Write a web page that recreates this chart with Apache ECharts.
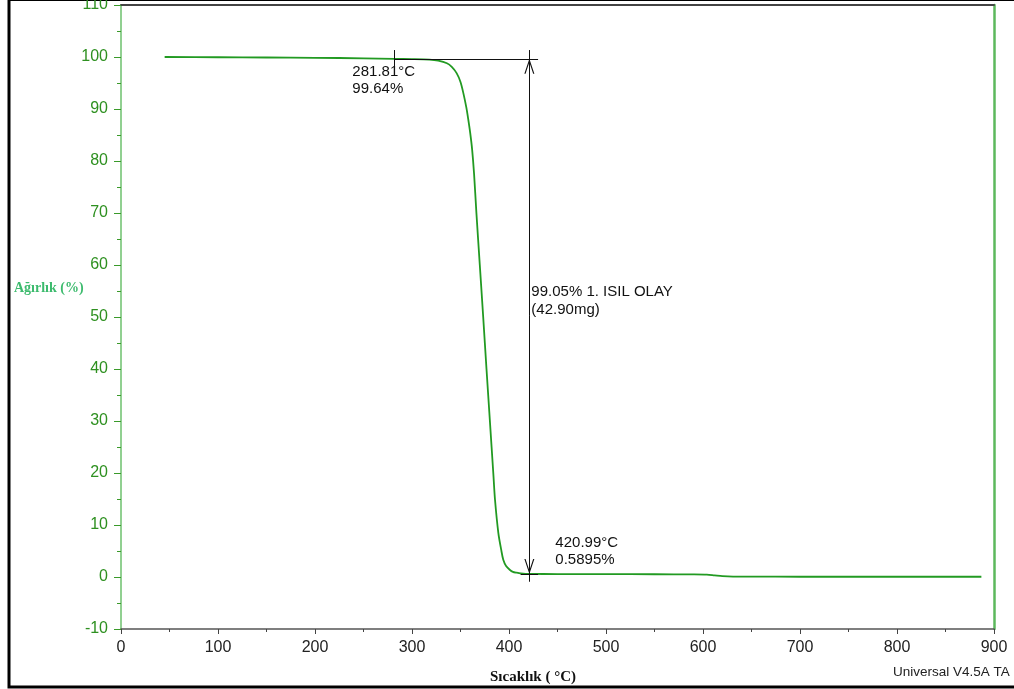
<!DOCTYPE html>
<html>
<head>
<meta charset="utf-8">
<script src="https://cdn.jsdelivr.net/npm/echarts@6/dist/echarts.min.js"></script>
<style>
html, body { margin: 0; padding: 0; background: #fff; }
#chart { width: 1014px; height: 689px; }
</style>
</head>
<body>
<div id="chart"></div>
<script>
// TGA egrisi: sicaklik (°C) - agirlik (%)
var temps = [45, 100, 150, 200, 250, 281.81, 300, 318, 327, 336, 341, 346, 350, 353, 356, 358, 360, 362, 364, 366.4,
	369.9, 373.4, 376.8, 380.3, 383.8, 385.6, 389, 392, 394.1, 397, 401, 404, 407.9, 412, 420.99,
	450, 500, 550, 590, 604, 612, 620, 631, 650, 700, 800, 887];
var weights = [100, 99.95, 99.9, 99.85, 99.75, 99.64, 99.6, 99.5, 99.3, 98.8, 98.1, 96.9, 95.2, 93.0, 90.3, 88.0, 85.4, 82.2, 77.5, 70,
	60, 50, 40, 30, 20, 14.8, 8.5, 5.2, 3.3, 2.1, 1.35, 1.0, 0.83, 0.7, 0.5895,
	0.57, 0.55, 0.53, 0.5, 0.45, 0.3, 0.15, 0.07, 0.06, 0.05, 0.05, 0.05];

var xTicks = { min: 0, max: 900, step: 100 };
var yTicks = { min: -10, max: 110, step: 10 };

// isaretler
var onset = [281.81, 99.64];
var endPoint = [420.99, 0.5895];
var onsetText = ['281.81°C', '99.64%'];
var stepText = ['99.05% 1. ISIL OLAY', '(42.90mg)'];
var endText = ['420.99°C', '0.5895%'];

var green = '#229a22';
var sans = 'Liberation Sans, Arial, sans-serif';
var serif = 'Liberation Serif, Times New Roman, serif';

var curve = temps.map(function(t, i) { return [t, weights[i]]; });

var myChart = echarts.init(document.getElementById('chart'));
var option = {
	animation: false,
	backgroundColor: '#fff',
	grid: { left: 121, right: 20, top: 5, bottom: 60, containLabel: false, outerBoundsMode: 'none' },
	xAxis: [{
		type: 'value', position: 'bottom',
		min: xTicks.min, max: xTicks.max, interval: xTicks.step,
		axisLine: { show: true, onZero: false, lineStyle: { color: '#555', width: 1.5 } },
		axisTick: { show: true, length: 5, lineStyle: { color: '#444' } },
		minorTick: { show: true, splitNumber: 2, length: 3, lineStyle: { color: '#444' } },
		axisLabel: { color: '#222', fontSize: 16, margin: 11, fontFamily: sans },
		splitLine: { show: false }
	}, {
		type: 'value', position: 'top',
		min: xTicks.min, max: xTicks.max,
		axisLine: { show: true, onZero: false, lineStyle: { color: '#444', width: 2 } },
		axisTick: { show: false }, axisLabel: { show: false }, splitLine: { show: false }
	}],
	yAxis: [{
		type: 'value', position: 'left',
		min: yTicks.min, max: yTicks.max, interval: yTicks.step,
		axisLine: { show: true, onZero: false, lineStyle: { color: '#6cc06c', width: 1.5 } },
		axisTick: { show: true, length: 7, lineStyle: { color: '#3a9a2a' } },
		minorTick: { show: true, splitNumber: 2, length: 4, lineStyle: { color: '#3a9a2a' } },
		axisLabel: { color: '#2e9020', fontSize: 16, margin: 13, fontFamily: sans },
		splitLine: { show: false }
	}, {
		type: 'value', position: 'right',
		min: yTicks.min, max: yTicks.max,
		axisLine: { show: true, onZero: false, lineStyle: { color: '#5cb85c', width: 2.5 } },
		axisTick: { show: false }, axisLabel: { show: false }, splitLine: { show: false }
	}],
	series: [{
		type: 'line',
		data: curve,
		showSymbol: false,
		smooth: 0.3,
		lineStyle: { color: green, width: 1.8 },
		itemStyle: { color: green },
		markLine: {
			silent: true,
			symbol: 'none',
			label: { show: false },
			lineStyle: { color: '#111', width: 1, type: 'solid' },
			data: [
				[{ coord: [onset[0], onset[1]] }, { coord: [endPoint[0] + 9, onset[1]] }],
				[{ coord: [onset[0], onset[1] + 1.7] }, { coord: [onset[0], onset[1] - 1.4] }],
				[{ coord: [endPoint[0], onset[1] + 1.7] }, { coord: [endPoint[0], endPoint[1] - 1.5] }],
				[{ coord: [endPoint[0] - 9, endPoint[1]] }, { coord: [endPoint[0] + 9, endPoint[1]] }]
			]
		},
		markPoint: {
			silent: true,
			data: [{
				coord: [endPoint[0], onset[1]],
				symbol: 'path://M5,0 L10,15 L8.8,15 L5,3.5 L1.2,15 L0,15 Z',
				symbolSize: [10, 15], symbolOffset: [0, '50%'],
				itemStyle: { color: '#111' }, label: { show: false }
			}, {
				coord: [endPoint[0], endPoint[1]],
				symbol: 'path://M5,15 L10,0 L8.8,0 L5,11.5 L1.2,0 L0,0 Z',
				symbolSize: [10, 15], symbolOffset: [0, '-50%'],
				itemStyle: { color: '#111' }, label: { show: false }
			}, {
				coord: onset, symbol: 'circle', symbolSize: 0,
				label: { show: true, position: [-42, 4], formatter: onsetText.join('\n') }
			}, {
				coord: [endPoint[0], 50], symbol: 'circle', symbolSize: 0,
				label: { show: true, position: [2, -34], formatter: stepText.join('\n'), lineHeight: 18 }
			}, {
				coord: endPoint, symbol: 'circle', symbolSize: 0,
				label: { show: true, position: [26, -40], formatter: endText.join('\n') }
			}],
			label: {
				color: '#111', fontSize: 15, fontFamily: sans,
				align: 'left', verticalAlign: 'top', lineHeight: 17
			}
		}
	}],
	graphic: [{
		type: 'rect', silent: true,
		shape: { x: 9, y: -0.5, width: 1020, height: 687.5 },
		style: { fill: 'none', stroke: '#000', lineWidth: 3 }
	}, {
		type: 'text', left: 14, top: 281,
		style: { text: 'Ağırlık (%)', fill: '#3dbb6e', font: 'bold 14px ' + serif }
	}, {
		type: 'text', left: 490, top: 670,
		style: { text: 'Sıcaklık ( °C)', fill: '#111', font: 'bold 15px ' + serif }
	}, {
		type: 'text', left: 893, top: 665,
		style: { text: 'Universal V4.5A TA', fill: '#222', font: '13.5px ' + sans }
	}]
};
myChart.setOption(option);
window.addEventListener('resize', function() {
	myChart.resize();
});
</script>
</body>
</html>
